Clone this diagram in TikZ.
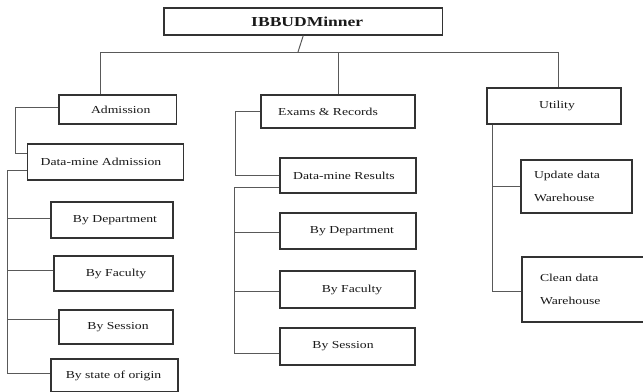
\documentclass[tikz,border=0pt]{standalone}
\usepackage{fontspec}
\setmainfont{Liberation Serif}[FakeStretch=1.28]
\begin{document}
\begin{tikzpicture}[x=1bp,y=-1bp,
  box/.style={draw=black!80,line width=1.1bp,inner sep=0pt,fill=white,
    font=\fontsize{10.7bp}{13bp}\selectfont,text=black!90},
  twoline/.style={box,align=left,font=\fontsize{10.7bp}{23bp}\selectfont},
  conn/.style={draw=black!65,line width=1bp}]
\useasboundingbox (0,0) rectangle (643,391);
\clip (0,0) rectangle (643,391);
% boxes
\node[box,minimum width=278.5bp,minimum height=27bp] (top) at (303.25,21.5)
  {\hspace*{8bp}\bfseries\fontsize{13.7bp}{16bp}\selectfont IBBUDMinner};
\node[box,minimum width=117.5bp,minimum height=29bp] (adm) at (117.75,109.5) {\hspace*{6bp}Admission};
\node[box,minimum width=154bp,minimum height=33bp] (exr) at (338,111.5) {\hspace*{-20bp}Exams \& Records};
\node[box,minimum width=134bp,minimum height=36bp] (uti) at (554,106) {\hspace*{6bp}Utility};
\node[box,minimum width=156bp,minimum height=36bp] (dma) at (105.5,162) {\hspace*{-9bp}Data-mine Admission};
\node[box,minimum width=122bp,minimum height=36bp] (dep1) at (112,220) {\hspace*{6bp}By Department};
\node[box,minimum width=119bp,minimum height=35bp] (fac1) at (113.5,273.5) {\hspace*{5bp}By Faculty};
\node[box,minimum width=114bp,minimum height=34bp] (ses1) at (116,327) {\hspace*{4bp}By Session};
\node[box,minimum width=127bp,minimum height=33bp] (sta1) at (114.5,375.5) {\hspace*{-2bp}By state of origin};
\node[box,minimum width=136bp,minimum height=35bp] (dmr) at (348,175.5) {\hspace*{-8bp}Data-mine Results};
\node[box,minimum width=136bp,minimum height=36bp] (dep2) at (348,231) {\hspace*{8bp}By Department};
\node[box,minimum width=135bp,minimum height=37bp] (fac2) at (347.5,289.5) {\hspace*{9bp}By Faculty};
\node[box,minimum width=135bp,minimum height=37bp] (ses2) at (347.5,346.5) {\hspace*{-9bp}By Session};
\node[twoline,inner xsep=13bp,text width=85bp,minimum height=53bp] (upd) at (576.5,186.5) {Update data\\Warehouse};
\node[twoline,inner xsep=18bp,text width=87bp,minimum height=65bp] (cln) at (583.5,289.5) {Clean data\\Warehouse};
% coordinates
\coordinate (b1) at (100,52);
\coordinate (b3) at (558,52);
% top connectors
\draw[conn] (top.south) -- (298,52);
\draw[conn] (b1) -- (b3);
\draw[conn] (b1) -- (b1 |- adm.north);
\draw[conn] (exr.north |- b1) -- (exr.north);
\draw[conn] (b3) -- (b3 |- uti.north);
% admission column
\draw[conn] ([yshift=2.5bp]adm.west) -- ++(-43,0) coordinate (s1) |- ([yshift=9bp]dma.west);
\draw[conn] ([yshift=-8bp]dma.west) -- ++(-19,0) coordinate (sp1);
\draw[conn] (sp1) |- ([yshift=2bp]dep1.west);
\draw[conn] (sp1) |- ([yshift=3.5bp]fac1.west);
\draw[conn] (sp1) |- ([yshift=8bp]ses1.west);
\draw[conn] (sp1) |- ([yshift=2.5bp]sta1.west);
% exams column
\draw[conn] (exr.west) -- ++(-25,0) |- (dmr.west);
\draw[conn] ([yshift=-11.5bp]dmr.west) -- ++(-45,0) coordinate (sp2);
\draw[conn] (sp2) |- ([yshift=-1bp]dep2.west);
\draw[conn] (sp2) |- ([yshift=-1.5bp]fac2.west);
\draw[conn] (sp2) |- ([yshift=-6.5bp]ses2.west);
% utility column
\draw[conn] ([xshift=6bp]uti.south west) coordinate (sp3) |- (upd.west);
\draw[conn] (sp3) |- ([yshift=-1.5bp]cln.west);
\end{tikzpicture}
\end{document}
